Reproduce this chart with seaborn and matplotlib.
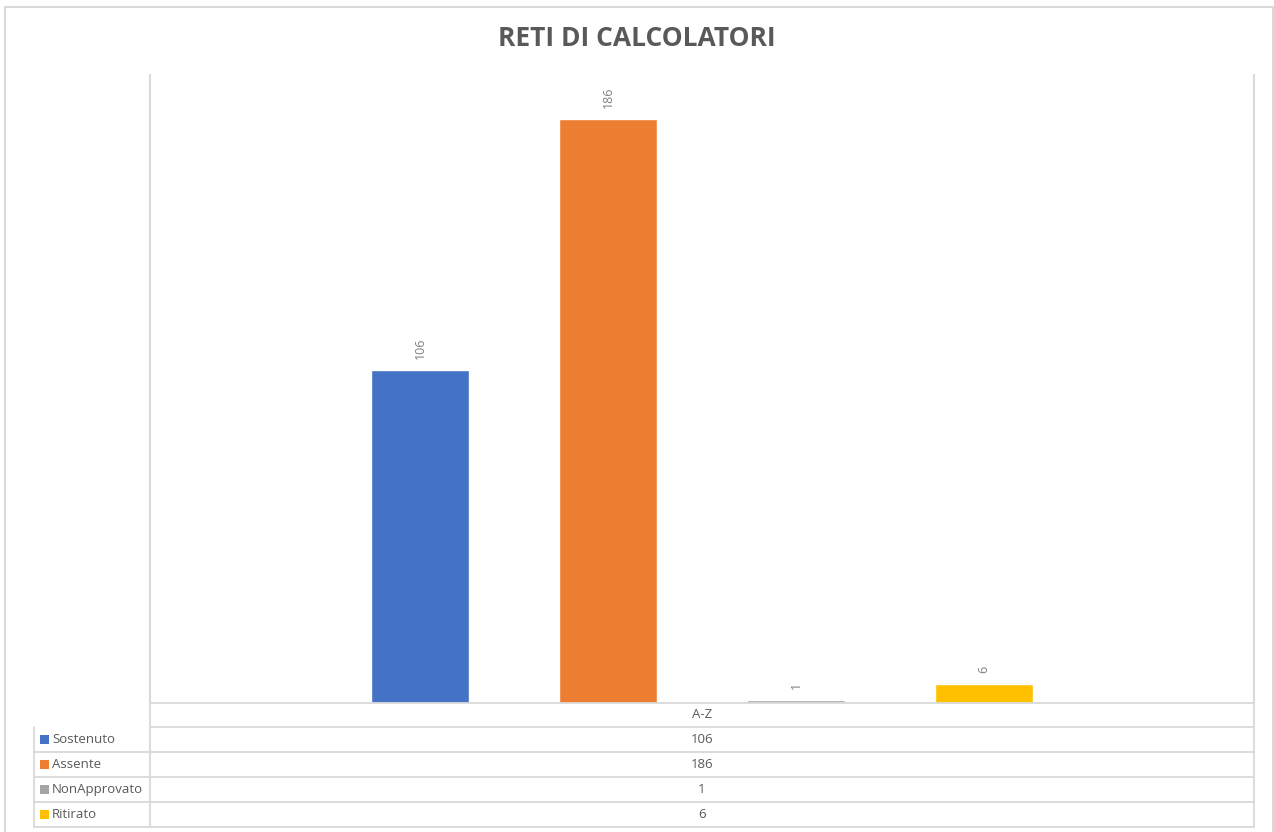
import matplotlib
matplotlib.use("Agg")
import matplotlib.pyplot as plt
from matplotlib.lines import Line2D
from matplotlib.patches import Rectangle
import pandas as pd
import seaborn as sns

# dati
titolo = "RETI DI CALCOLATORI"
gruppo = "A-Z"
esiti = ["Sostenuto", "Assente", "NonApprovato", "Ritirato"]
valori = [106, 186, 1, 6]
colori = ["#4472C4", "#ED7D31", "#A5A5A5", "#FFC000"]

df = pd.DataFrame({"esito": esiti, "n": valori})

W, H = 1274, 832
sns.set_style("white")
plt.rcParams["font.family"] = ["Open Sans", "DejaVu Sans"]

fig = plt.figure(figsize=(W / 100, H / 100), dpi=100)
grigio_linea = "#D9D9D9"
grigio_testo = "#595959"


def fx(x):
    return x / W


def fy(y):
    return 1 - y / H


def hline(x0, x1, y, lw=1.3):
    fig.add_artist(Line2D([fx(x0), fx(x1)], [fy(y), fy(y)], color=grigio_linea, lw=lw))


def vline(x, y0, y1, lw=1.3):
    fig.add_artist(Line2D([fx(x), fx(x)], [fy(y0), fy(y1)], color=grigio_linea, lw=lw))


# cornice esterna
fig.add_artist(Rectangle((fx(5), fy(840)), fx(1273) - fx(5), fy(7) - fy(840),
                         fill=False, edgecolor=grigio_linea, lw=1.5))

# area del grafico
left, right, top, base = 150, 1254, 75, 703
ax = fig.add_axes([fx(left), fy(base), fx(right) - fx(left), fy(top) - fy(base)])
sns.barplot(data=df, x="esito", y="n", hue="esito", palette=colori,
            width=0.52, legend=False, ax=ax, saturation=1)

passo = (right - left) / 188
ax.set_xlim(1.5 - passo / 2, 1.5 + passo / 2)
ax.set_ylim(0, 200)
ax.set_xticks([])
ax.set_yticks([])
ax.set_xlabel("")
ax.set_ylabel("")
for s in ["top", "bottom"]:
    ax.spines[s].set_visible(False)
for s in ["left", "right"]:
    ax.spines[s].set_color(grigio_linea)
    ax.spines[s].set_linewidth(1.5)

for c in ax.containers:
    ax.bar_label(c, rotation=90, padding=8, color="#7F7F7F", fontsize=9)

fig.text(0.5, fy(38), titolo, ha="center", va="center", fontsize=19,
         fontweight="bold", color=grigio_testo)

# tabella dati
righe = [703, 727, 752, 777, 802, 827]
hline(left, right, righe[0])
hline(left, right, righe[1])
for y in righe[2:]:
    hline(34, right, y)
vline(left, righe[0], righe[-1])
vline(34, righe[1], righe[-1])
vline(right, righe[0], righe[-1])

mid = (left + right) / 2
fig.text(fx(mid), fy((righe[0] + righe[1]) / 2), gruppo, ha="center", va="center",
         fontsize=9.5, color=grigio_testo)
for i, (e, v, col) in enumerate(zip(esiti, valori, colori)):
    yc = (righe[i + 1] + righe[i + 2]) / 2
    fig.add_artist(Rectangle((fx(40), fy(yc + 4.5)), fx(9), 9 / H,
                             facecolor=col, edgecolor="none"))
    fig.text(fx(52), fy(yc), e, ha="left", va="center", fontsize=9.5, color=grigio_testo)
    fig.text(fx(mid), fy(yc), str(v), ha="center", va="center", fontsize=9.5,
             color=grigio_testo)

fig.savefig("out.png", dpi=100)
